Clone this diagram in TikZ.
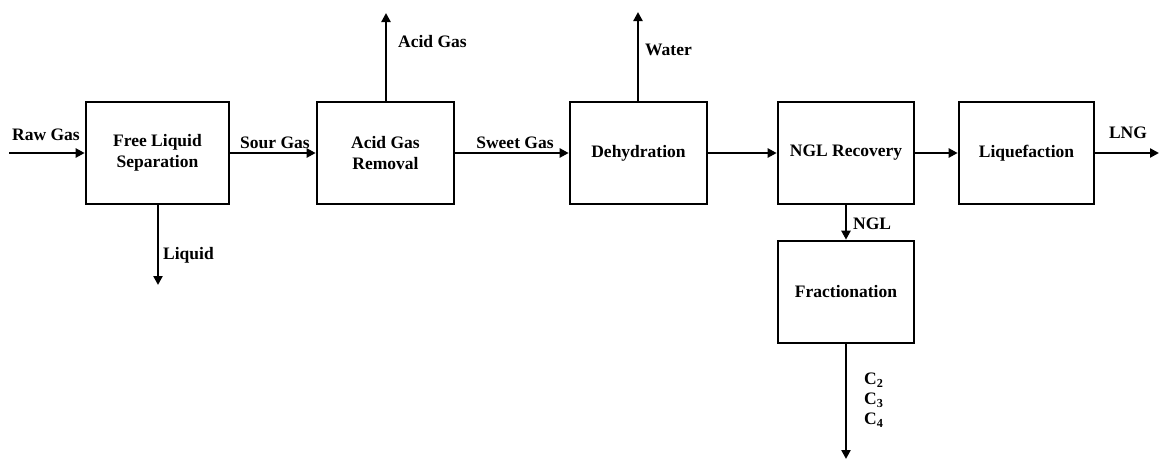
\documentclass[tikz,border=0pt]{standalone}
\usepackage{fontspec}
\setmainfont{Liberation Serif}
\usetikzlibrary{arrows.meta}
\begin{document}
\begin{tikzpicture}[x=1pt,y=-1pt,
  box/.style={draw, line width=2.6pt, minimum width=137pt, minimum height=102pt, align=center, inner sep=0pt,
    font=\bfseries\fontsize{17.5}{21}\selectfont},
  flow/.style={line width=2.6pt, -{Triangle[length=9pt,width=9pt]}},
  lbl/.style={font=\bfseries\fontsize{17.5}{20}\selectfont, inner sep=0pt}]
\useasboundingbox (0,0) rectangle (1163,464);
\node[box, minimum width=143pt] (b1) at (157.5,153) {Free Liquid\\Separation};
\node[box] (b2) at (385.5,153) {Acid Gas\\Removal};
\node[box] (b3) at (638.5,153) {Dehydration};
\node[box, minimum width=136pt] (b4) at (846,153) {NGL Recovery};
\node[box, minimum width=135pt] (b5) at (1026.5,153) {Liquefaction};
\node[box, minimum width=136pt] (b6) at (846,292) {Fractionation};
\coordinate (raw) at (9,153);
\coordinate (liq) at (158,285);
\coordinate (acid) at (386,13);
\coordinate (water) at (638,12);
\coordinate (lng) at (1159,153);
\coordinate (cout) at (846,459);
\draw[flow] (raw) -- (b1.west);
\draw[flow] (b1.east) -- (b2.west);
\draw[flow] (b1.south -| liq) -- (liq);
\draw[flow] (b2.north -| acid) -- (acid);
\draw[flow] (b2.east) -- (b3.west);
\draw[flow] (b3.north -| water) -- (water);
\draw[flow] (b3.east) -- (b4.west);
\draw[flow] (b4.east) -- (b5.west);
\draw[flow] (b5.east) -- (lng);
\draw[flow] (b4.south) -- (b6.north);
\draw[flow] (b6.south) -- (cout);
\node[lbl] (lraw) at (46,135) {Raw Gas};
\node[lbl] (lsour) at (275,143) {Sour Gas};
\node[lbl, anchor=west] (lliq) at (163,255) {Liquid};
\node[lbl, anchor=west] (lacid) at (398,42) {Acid Gas};
\node[lbl] (lsweet) at (515,143) {Sweet Gas};
\node[lbl, anchor=west] (lwater) at (645,50) {Water};
\node[lbl] (llng) at (1128,133) {LNG};
\node[lbl, anchor=west] (lngl) at (853,224) {NGL};
\node[lbl, anchor=west] (lc2) at (864,380) {C\textsubscript{2}};
\node[lbl, anchor=west] (lc3) at (864,400) {C\textsubscript{3}};
\node[lbl, anchor=west] (lc4) at (864,420) {C\textsubscript{4}};
\end{tikzpicture}
\end{document}
